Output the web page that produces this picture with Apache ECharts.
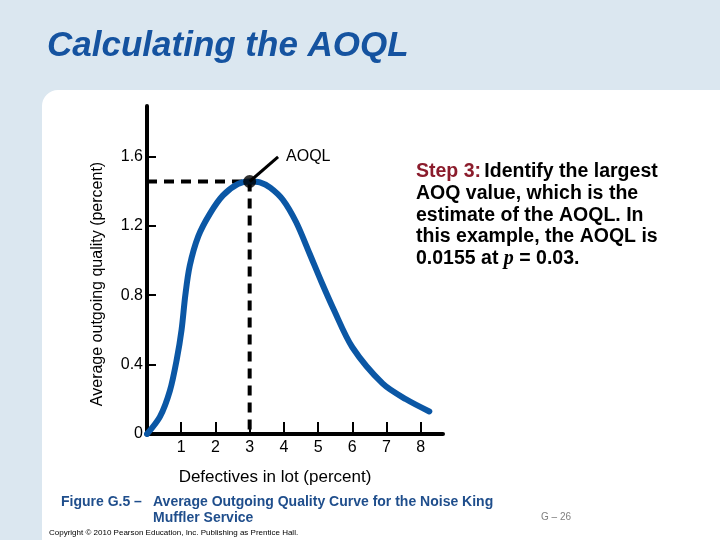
<!DOCTYPE html>
<html>
<head>
<meta charset="utf-8">
<script src="https://cdn.jsdelivr.net/npm/echarts@6/dist/echarts.min.js"></script>
<style>
html,body{margin:0;padding:0;background:#dbe7f0;}
#c{width:720px;height:540px;}
</style>
</head>
<body>
<div id="c"></div>
<script>
// Data
var curveP = [0, 0.38, 0.67, 0.87, 1.01, 1.12, 1.25, 1.50, 1.84, 2.22, 2.65, 3.0, 3.3, 3.6, 3.97, 4.36, 4.75, 5.09, 5.45, 6.0, 6.89, 7.57, 8.25];
var curveAOQ = [0, 0.10, 0.25, 0.43, 0.60, 0.80, 0.97, 1.14, 1.27, 1.375, 1.44, 1.455, 1.45, 1.42, 1.35, 1.22, 1.04, 0.88, 0.72, 0.50, 0.29, 0.20, 0.13];
var peakP = 3.0;
var peakAOQ = 1.455;
var leaderEnd = [3.83, 1.597];
var xTicks = [1, 2, 3, 4, 5, 6, 7, 8];
var yTicks = [0, 0.4, 0.8, 1.2, 1.6];
var yTickLabels = ['0', '0.4', '0.8', '1.2', '1.6'];

var FONT = "'Liberation Sans', Arial, Helvetica, sans-serif";
var curveData = curveP.map(function (p, i) { return [p, curveAOQ[i]]; });

var chart = echarts.init(document.getElementById('c'), null, {renderer: 'canvas'});
chart.setOption({
  backgroundColor: '#dbe7f0',
  animation: false,
  graphic: [
    {type: 'rect', z: -10, shape: {x: 42, y: 90, width: 700, height: 470, r: [16, 0, 0, 0]}, style: {fill: '#ffffff'}},
    {type: 'text', x: 47, y: 46, style: {text: 'Calculating the AOQL', font: 'italic bold 35px ' + FONT, fill: '#1553a0', verticalAlign: 'middle'}},
    {type: 'text', x: 98, y: 284, rotation: Math.PI / 2, style: {text: 'Average outgoing quality (percent)', font: '16px ' + FONT, fill: '#000', align: 'center', verticalAlign: 'middle'}},
    {type: 'text', x: 275, y: 477, style: {text: 'Defectives in lot (percent)', font: '17px ' + FONT, fill: '#000', align: 'center', verticalAlign: 'middle'}},
    {type: 'text', x: 416, y: 161, style: {
      text: '{r|Step 3:} {b|Identify the largest}\n{b|AOQ value, which is the}\n{b|estimate of the AOQL. In}\n{b|this example, the AOQL is}\n{b|0.0155 at }{i|p}{b| = 0.03.}',
      rich: {
        r: {font: 'bold 19.5px ' + FONT, fill: '#8b1c2c', lineHeight: 21.7},
        b: {font: 'bold 19.5px ' + FONT, fill: '#000', lineHeight: 21.7},
        i: {font: 'italic bold 20px "Liberation Serif", "DejaVu Serif", serif', fill: '#000', lineHeight: 21.7}
      }
    }},
    {type: 'text', x: 61, y: 502, style: {text: 'Figure G.5 \u2013', font: 'bold 14px ' + FONT, fill: '#1f4e8c', verticalAlign: 'middle'}},
    {type: 'text', x: 153, y: 510, style: {text: 'Average Outgoing Quality Curve for the Noise King\nMuffler Service', font: 'bold 14px ' + FONT, fill: '#1f4e8c', verticalAlign: 'middle', lineHeight: 16}},
    {type: 'text', x: 541, y: 517, style: {text: 'G \u2013 26', font: '10px ' + FONT, fill: '#808080', verticalAlign: 'middle'}},
    {type: 'text', x: 49, y: 533, style: {text: 'Copyright \u00a9 2010 Pearson Education, Inc. Publishing as Prentice Hall.', font: '8px ' + FONT, fill: '#000', verticalAlign: 'middle'}}
  ],
  grid: {left: 147, top: 106, width: 296, height: 328, containLabel: false},
  xAxis: {
    type: 'value', min: 0, max: 8.65, interval: 1,
    axisLine: {show: true, onZero: false, lineStyle: {color: '#000', width: 4}},
    axisTick: {show: true, inside: true, length: 12, lineStyle: {color: '#000', width: 2}, customValues: xTicks},
    axisLabel: {show: true, fontSize: 16, color: '#000', fontFamily: FONT, margin: 6, customValues: xTicks},
    splitLine: {show: false}
  },
  yAxis: {
    type: 'value', min: 0, max: 1.89, interval: 0.4,
    axisLine: {show: true, onZero: false, lineStyle: {color: '#000', width: 4}},
    axisTick: {show: true, inside: true, length: 9, lineStyle: {color: '#000', width: 2}, customValues: yTicks},
    axisLabel: {show: true, fontSize: 16, color: '#000', fontFamily: FONT, margin: 4, customValues: yTicks,
      formatter: function (v) { var i = yTicks.indexOf(Math.round(v * 10) / 10); return i >= 0 ? yTickLabels[i] : ''; }},
    splitLine: {show: false}
  },
  series: [
    {type: 'line', data: [[0, peakAOQ], [peakP, peakAOQ]], symbol: 'none', z: 3,
      lineStyle: {color: '#000', width: 4, type: [10, 7]}},
    {type: 'line', data: [[peakP, peakAOQ], [peakP, 0]], symbol: 'none', z: 3,
      lineStyle: {color: '#000', width: 4, type: [10, 7]}},
    {type: 'line', data: curveData, smooth: 0.3, symbol: 'none', z: 4,
      lineStyle: {color: '#0b57a5', width: 6, cap: 'round'}},
    {type: 'line', data: [[peakP, peakAOQ], leaderEnd], symbol: 'none', z: 5,
      lineStyle: {color: '#000', width: 3},
      endLabel: {show: true, formatter: 'AOQL', fontSize: 16, color: '#000', fontFamily: FONT, distance: 8}},
    {type: 'scatter', data: [[peakP, peakAOQ]], symbolSize: 13, z: 6, itemStyle: {color: '#000'}}
  ]
});
</script>
</body>
</html>
